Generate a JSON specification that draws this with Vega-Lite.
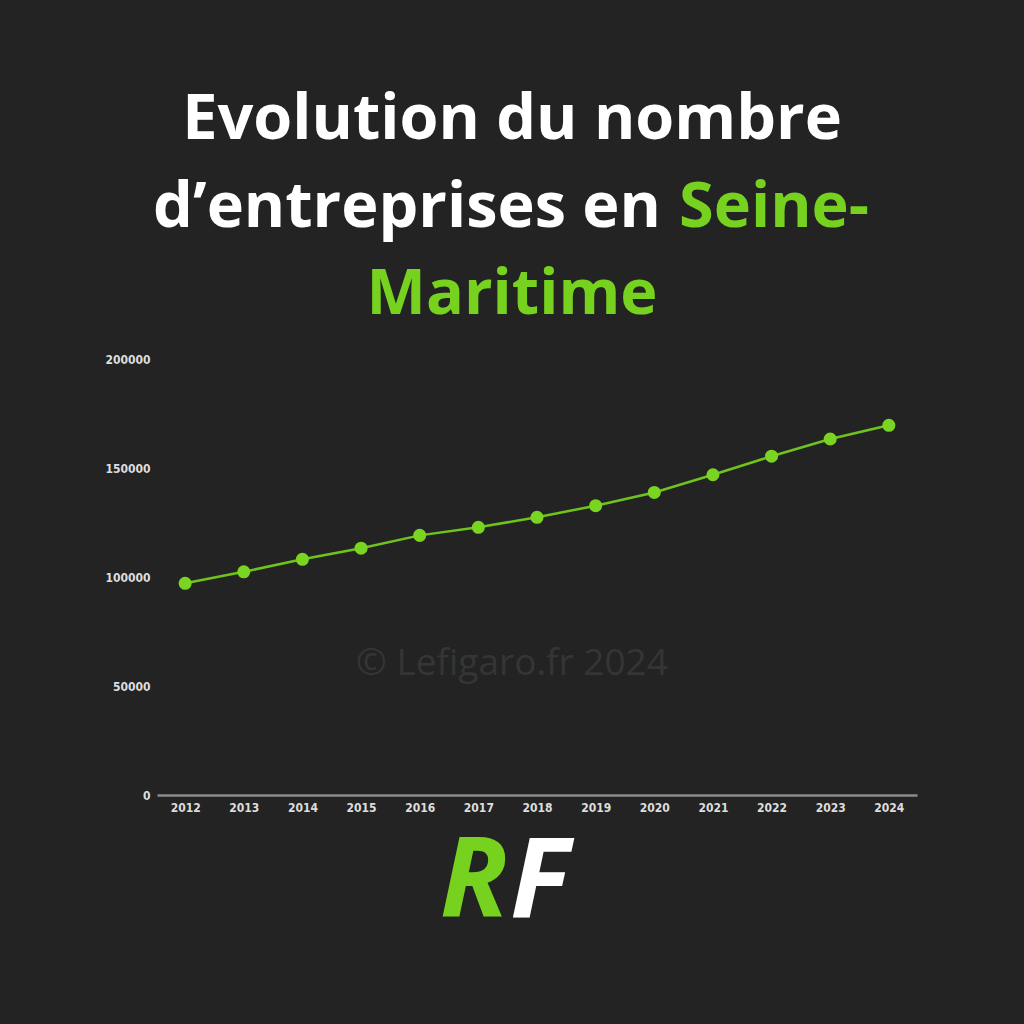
{
  "$schema": "https://vega.github.io/schema/vega-lite/v6.json",
  "background": "#232323",
  "padding": {"left": 104, "top": 89, "right": 112, "bottom": 99},
  "autosize": {"type": "pad"},
  "config": {"view": {"stroke": null}, "font": "Open Sans"},
  "spacing": 26,
  "vconcat": [
    {
      "width": 710,
      "height": 175,
      "data": {"values": [
        {"line": 1, "part": "l1", "text": "Evolution du nombre"},
        {"line": 2, "part": "l2a", "text": "d’entreprises en"},
        {"line": 2, "part": "l2b", "text": "Seine-"},
        {"line": 3, "part": "l3", "text": "Maritime"}
      ]},
      "encoding": {
        "y": {"field": "line", "type": "ordinal", "axis": null, "scale": {"type": "point", "padding": 0}},
        "text": {"field": "text"}
      },
      "layer": [
        {"transform": [{"filter": "datum.part == 'l1'"}],
         "mark": {"type": "text", "font": "Open Sans", "fontWeight": "bold", "fontSize": 63, "color": "#ffffff", "align": "center", "baseline": "alphabetic"}},
        {"transform": [{"filter": "datum.part == 'l2a'"}],
         "mark": {"type": "text", "font": "Open Sans", "fontWeight": "bold", "fontSize": 63, "color": "#ffffff", "align": "right", "baseline": "alphabetic", "dx": 149}},
        {"transform": [{"filter": "datum.part == 'l2b'"}],
         "mark": {"type": "text", "font": "Open Sans", "fontWeight": "bold", "fontSize": 63, "color": "#77d21f", "align": "left", "baseline": "alphabetic", "dx": 167}},
        {"transform": [{"filter": "datum.part == 'l3'"}],
         "mark": {"type": "text", "font": "Open Sans", "fontWeight": "bold", "fontSize": 63, "color": "#77d21f", "align": "center", "baseline": "alphabetic"}}
      ]
    },
    {
      "spacing": 14,
      "vconcat": [
        {
          "width": 760,
          "height": 436,
          "layer": [
            {
              "data": {"values": [{"note": "© Lefigaro.fr 2024"}]},
              "mark": {"type": "text", "font": "Open Sans", "fontSize": 37, "color": "#353535", "baseline": "alphabetic", "dx": -25},
              "encoding": {"text": {"field": "note"}, "y": {"datum": 55000, "type": "quantitative"}}
            },
            {
              "data": {"values": [
                {"year": "2012", "n": 97100},
                {"year": "2013", "n": 102400},
                {"year": "2014", "n": 108100},
                {"year": "2015", "n": 113200},
                {"year": "2016", "n": 119100},
                {"year": "2017", "n": 122800},
                {"year": "2018", "n": 127400},
                {"year": "2019", "n": 132700},
                {"year": "2020", "n": 138800},
                {"year": "2021", "n": 146900},
                {"year": "2022", "n": 155400},
                {"year": "2023", "n": 163300},
                {"year": "2024", "n": 169600}
              ]},
              "encoding": {
                "x": {"field": "year", "type": "ordinal", "scale": {"type": "point", "padding": 0.48},
                      "axis": {"title": null, "labelAngle": 0, "ticks": false, "domainColor": "#8c8c8c", "domainWidth": 2.5, "labelPadding": 7,
                               "labelFont": "DejaVu Sans Condensed, DejaVu Sans", "labelFontWeight": "bold", "labelFontSize": 12, "labelColor": "#dddddd"}},
                "y": {"field": "n", "type": "quantitative", "scale": {"domain": [0, 200000], "nice": false},
                      "axis": {"title": null, "values": [0, 50000, 100000, 150000, 200000], "format": "d", "ticks": false, "domain": false,
                               "gridColor": "#454545", "gridWidth": 1.5, "labelPadding": 7,
                               "labelFont": "DejaVu Sans Condensed, DejaVu Sans", "labelFontWeight": "bold", "labelFontSize": 12, "labelColor": "#dddddd"}}
              },
              "layer": [
                {"mark": {"type": "line", "color": "#6fc41c", "strokeWidth": 2.5}},
                {"mark": {"type": "point", "filled": true, "opacity": 1, "color": "#7ad522", "size": 170}}
              ]
            }
          ]
        },
        {
          "width": 710,
          "height": 54,
          "data": {"values": [{"letter": "R", "part": "r"}, {"letter": "F", "part": "f"}]},
          "encoding": {"text": {"field": "letter"}},
          "layer": [
            {"transform": [{"filter": "datum.part == 'r'"}],
             "mark": {"type": "text", "font": "Open Sans", "fontWeight": "bold", "fontStyle": "italic", "fontSize": 112, "color": "#77d21f", "align": "right", "baseline": "middle", "dx": -4}},
            {"transform": [{"filter": "datum.part == 'f'"}],
             "mark": {"type": "text", "font": "Open Sans", "fontWeight": "bold", "fontStyle": "italic", "fontSize": 112, "color": "#ffffff", "align": "left", "baseline": "middle", "dx": -2}}
          ]
        }
      ]
    }
  ]
}
